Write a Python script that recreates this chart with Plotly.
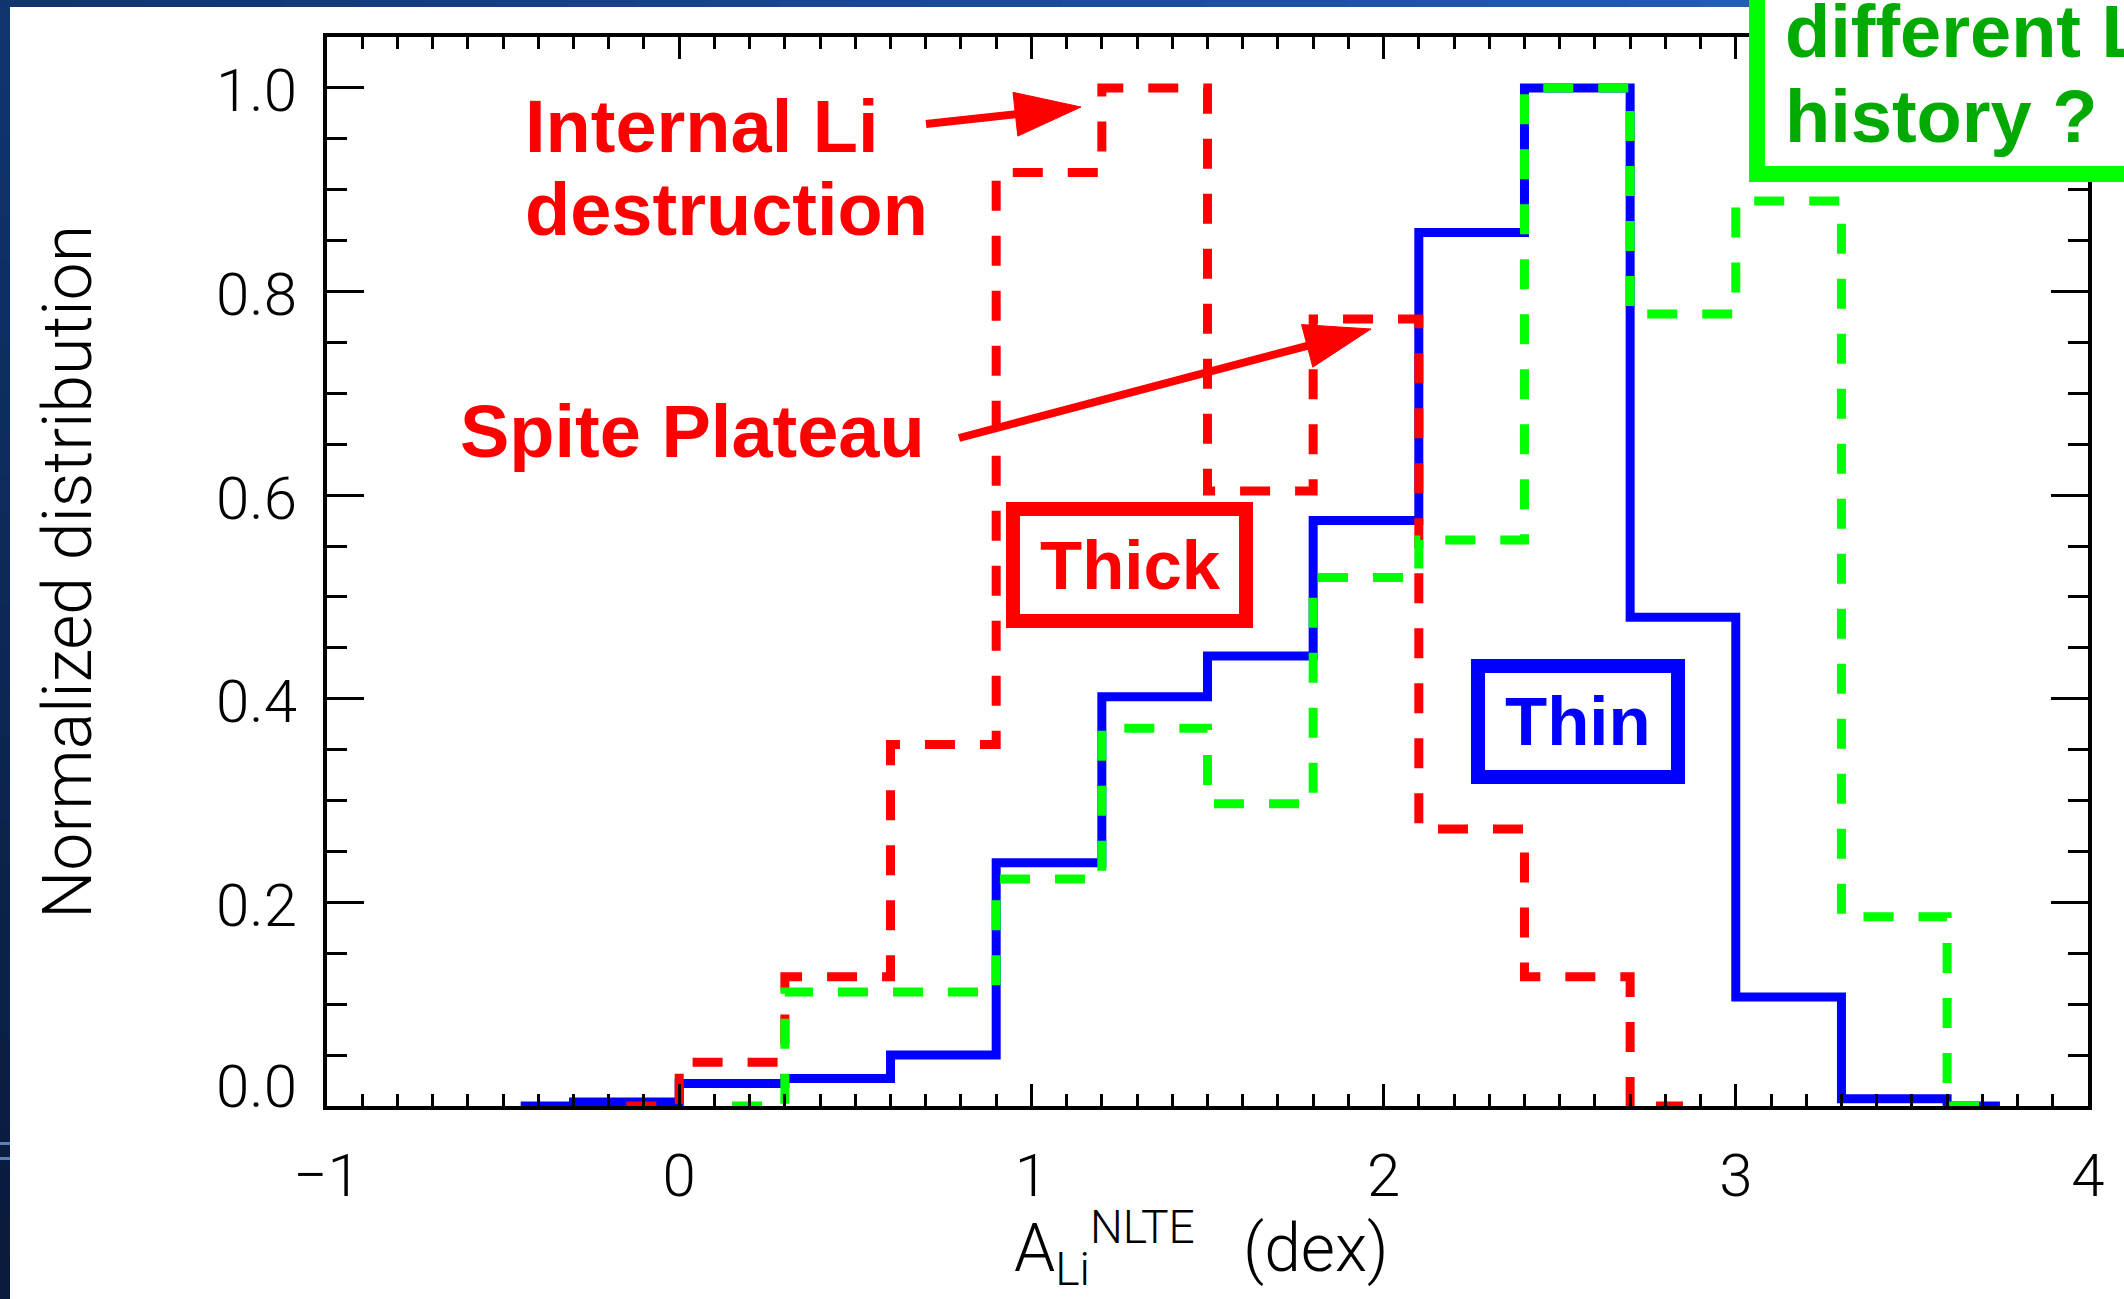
import plotly.graph_objects as go

# ---- Li abundance histograms (bin centres in dex, bin width 0.3) ----
thin_x = [-0.45, -0.15, 0.15, 0.45, 0.75, 1.05, 1.35, 1.65, 1.95, 2.25, 2.55, 2.85, 3.15, 3.45, 3.75]
thin_y = [0.0, 0.004, 0.022, 0.027, 0.050, 0.239, 0.402, 0.442, 0.575, 0.858, 1.0, 0.480, 0.107, 0.007, 0.0]

thick_x = [-0.15, 0.15, 0.45, 0.75, 1.05, 1.35, 1.65, 1.95, 2.25, 2.55, 2.85]
thick_y = [0.0, 0.043, 0.127, 0.355, 0.917, 1.0, 0.604, 0.773, 0.272, 0.127, 0.0]

alt_x = [0.15, 0.45, 0.75, 1.05, 1.35, 1.65, 1.95, 2.25, 2.55, 2.85, 3.15, 3.45, 3.75]
alt_y = [0.0, 0.112, 0.112, 0.223, 0.371, 0.297, 0.519, 0.556, 1.0, 0.778, 0.889, 0.186, 0.0]

x_tickvals = [-1, 0, 1, 2, 3, 4]
x_ticktext = ["\u22121", "0", "1", "2", "3", "4"]
y_tickvals = [0.0, 0.2, 0.4, 0.6, 0.8, 1.0]
y_ticktext = ["0.0", "0.2", "0.4", "0.6", "0.8", "1.0"]

# ---- page geometry (pixels) ----
W, H = 2124, 1299
L, R, T, B = 327, 2088, 37, 1106

def px(xp):
    return (xp - L) / (R - L)

def py(yp):
    return (B - yp) / (B - T)

RED = "#ff0000"
BLUE = "#0000ff"
GREEN = "#00ff00"
DKGREEN = "#00aa00"
BOLD = "Liberation Sans, Arial, sans-serif"
THIN = "Roboto, DejaVu Sans, sans-serif"
DASH = "30px,25px"

fig = go.Figure()
fig.add_trace(go.Scatter(x=thin_x, y=thin_y, mode="lines",
                         line=dict(shape="hvh", color=BLUE, width=9),
                         hoverinfo="skip"))
fig.add_trace(go.Scatter(x=thick_x, y=thick_y, mode="lines",
                         line=dict(shape="hvh", color=RED, width=9, dash=DASH),
                         hoverinfo="skip"))
fig.add_trace(go.Scatter(x=alt_x, y=alt_y, mode="lines",
                         line=dict(shape="hvh", color=GREEN, width=9, dash=DASH),
                         hoverinfo="skip"))

shapes = []

def blend(c1, c2, t):
    a = [int(c1[i:i + 2], 16) for i in (1, 3, 5)]
    b = [int(c2[i:i + 2], 16) for i in (1, 3, 5)]
    return "#%02x%02x%02x" % tuple(round(a[k] + (b[k] - a[k]) * t) for k in range(3))

def rect_px(x0, y0, x1, y1, fill=None, line_color=None, line_width=0, layer="above"):
    d = dict(type="rect", xref="paper", yref="paper",
             x0=px(x0), x1=px(x1), y0=py(y0), y1=py(y1), layer=layer,
             line=dict(width=line_width, color=line_color or "rgba(0,0,0,0)"))
    if fill:
        d["fillcolor"] = fill
    shapes.append(d)

# slide frame: navy strip on the left and along the top
n = 30
for i in range(n):
    rect_px(0, H * i / n, 10, H * (i + 1) / n + 1, fill=blend("#10356f", "#0a1a3a", i / (n - 1)))
for i in range(n):
    rect_px(W * i / n, 0, W * (i + 1) / n + 1, 7, fill=blend("#10346e", "#2464c6", i / (n - 1)))
rect_px(0, 1142, 10, 1145, fill="#5b7fb5")
rect_px(0, 1157, 10, 1160, fill="#5b7fb5")

# labelled boxes
rect_px(1013, 509, 1246, 621, fill="white", line_color=RED, line_width=14)
rect_px(1478, 666, 1678, 777, fill="white", line_color=BLUE, line_width=14)
rect_px(1757, -80, 2200, 174, fill="white", line_color=GREEN, line_width=16)

# arrows: straight shaft + filled triangular head
def arrow(x0, y0, x1, y1, head_len=66, head_half=22, width=8, color=RED):
    dx, dy = x1 - x0, y1 - y0
    ln = (dx * dx + dy * dy) ** 0.5
    ux, uy = dx / ln, dy / ln
    bx, by = x1 - ux * head_len, y1 - uy * head_len
    shapes.append(dict(type="line", xref="paper", yref="paper",
                       x0=px(x0), y0=py(y0), x1=px(bx + ux * 4), y1=py(by + uy * 4),
                       line=dict(color=color, width=width), layer="above"))
    p1 = (bx - uy * head_half, by + ux * head_half)
    p2 = (bx + uy * head_half, by - ux * head_half)
    path = "M %f %f L %f %f L %f %f Z" % (px(x1), py(y1), px(p1[0]), py(p1[1]), px(p2[0]), py(p2[1]))
    shapes.append(dict(type="path", xref="paper", yref="paper", path=path,
                       fillcolor=color, line=dict(color=color, width=1), layer="above"))

arrow(926, 124, 1081, 107)
arrow(959, 438, 1371, 329)

annotations = []

def text_px(x, y, s, size, color, xanchor="left", family=BOLD, angle=0, weight=None):
    f = dict(family=family, size=size, color=color)
    if weight:
        f["weight"] = weight
    annotations.append(dict(xref="paper", yref="paper", x=px(x), y=py(y), text=s,
                            showarrow=False, xanchor=xanchor, yanchor="middle",
                            font=f, textangle=angle, borderpad=0))

text_px(524, 127, "<b>Internal Li</b>", 74, RED)
text_px(524, 210, "<b>destruction</b>", 74, RED)
text_px(459, 432, "<b>Spite Plateau</b>", 74, RED)
text_px(1130, 565, "<b>Thick</b>", 69, RED, xanchor="center")
text_px(1578, 721, "<b>Thin</b>", 69, BLUE, xanchor="center")
text_px(1784, 32, "<b>different Li</b>", 74, DKGREEN)
text_px(1784, 116, "<b>history ?</b>", 74, DKGREEN)

# axis titles
text_px(68, 572, "Normalized distribution", 68, "black", xanchor="center",
        family=THIN, angle=-90, weight=300)
text_px(1201, 1248, "A<sub>Li</sub><sup>NLTE</sup>\u00a0\u00a0\u00a0(dex)", 66, "black",
        xanchor="center", family=THIN, weight=300)

# y tick labels (the zero label sits a little above its tick)
for v, s in zip(y_tickvals, y_ticktext):
    annotations.append(dict(xref="paper", yref="y", x=px(298), y=v, text=s,
                            showarrow=False, xanchor="right", yanchor="middle",
                            yshift=20 if v == 0 else -3, borderpad=0,
                            font=dict(family=THIN, size=60, color="black", weight=300)))

axis_common = dict(showgrid=False, zeroline=False, showline=True, linecolor="black",
                   linewidth=4, ticks="inside", tickcolor="black", tickwidth=3,
                   mirror="allticks",
                   tickfont=dict(family=THIN, size=60, color="black", weight=300))

fig.update_layout(
    width=W, height=H,
    margin=dict(l=L, r=W - R, t=T, b=H - B),
    paper_bgcolor="white", plot_bgcolor="white",
    showlegend=False,
    xaxis=dict(range=[-1, 4], tickvals=x_tickvals, ticktext=x_ticktext, ticklen=22,
               ticklabelstandoff=14,
               minor=dict(dtick=0.1, tick0=0, ticklen=12, tickwidth=3, tickcolor="black",
                          ticks="inside", showgrid=False),
               **axis_common),
    yaxis=dict(range=[0, 1.05], tickvals=y_tickvals, ticktext=y_ticktext, ticklen=37,
               showticklabels=False,
               minor=dict(dtick=0.05, tick0=0, ticklen=20, tickwidth=3, tickcolor="black",
                          ticks="inside", showgrid=False),
               **axis_common),
    shapes=shapes,
    annotations=annotations,
)

fig.write_html("out.html")
